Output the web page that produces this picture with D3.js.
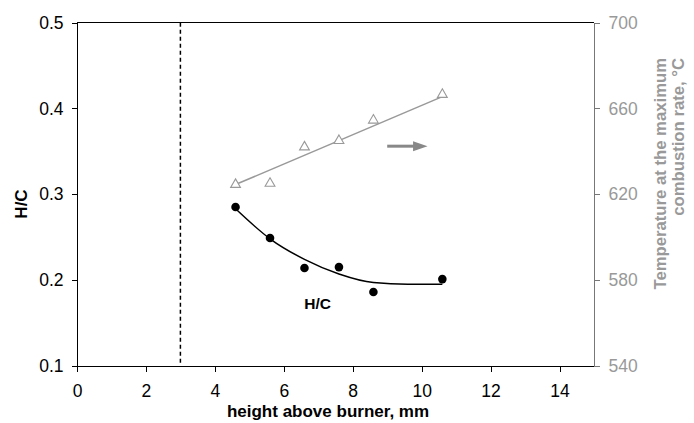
<!DOCTYPE html>
<html>
<head>
<meta charset="utf-8">
<script src="https://d3js.org/d3.v7.min.js"></script>
<style>
  body { margin: 0; background: #fff; }
  svg { display: block; font-family: "Liberation Sans", Arial, sans-serif; }
  .axis path, .axis line { shape-rendering: crispEdges; }
</style>
</head>
<body>
<div id="chart"></div>
<script>
// data
var heights = [4.6, 5.6, 6.6, 7.6, 8.6, 10.6];
var hcValues = [0.285, 0.249, 0.214, 0.215, 0.186, 0.201];
var tempValues = [624.5, 625, 642, 645, 654.5, 666.5];

// trend lines as drawn
var hcFitX = [4.6, 5.6, 6.6, 7.6, 8.6, 9.6, 10.6];
var hcFitY = [0.283, 0.248, 0.224, 0.207, 0.197, 0.195, 0.195];
var tempFitX = [4.6, 10.6];
var tempFitY = [624.5, 665.5];

var xTicks = [0, 2, 4, 6, 8, 10, 12, 14];
var hcTicks = [0.1, 0.2, 0.3, 0.4, 0.5];
var tempTicks = [540, 580, 620, 660, 700];
var burnerLine = 3;

var W = 694, H = 423;
var pLeft = 77, pRight = 594, pTop = 22.7, pBottom = 365.7;
var tickFont = 17.5;

var svg = d3.select("#chart").append("svg")
    .attr("width", W)
    .attr("height", H);

var x = d3.scaleLinear().domain([0, 15]).range([pLeft, pRight]);
var y = d3.scaleLinear().domain([0.1, 0.5]).range([pBottom, pTop]);
var yT = d3.scaleLinear().domain([540, 700]).range([pBottom, pTop]);

// top frame line
svg.append("line")
    .attr("x1", pLeft).attr("x2", pRight)
    .attr("y1", y(0.5)).attr("y2", y(0.5))
    .attr("stroke", "#000").attr("stroke-width", 1.2)
    .attr("shape-rendering", "crispEdges");

// x axis
var gx = svg.append("g")
    .attr("class", "axis")
    .attr("transform", "translate(0," + pBottom + ")")
    .call(d3.axisBottom(x).tickValues(xTicks).tickSize(6).tickSizeOuter(0).tickPadding(13));
gx.attr("font-size", tickFont).attr("font-family", null);
gx.select(".domain").attr("stroke", "#000").attr("stroke-width", 1.2);
gx.selectAll("text").attr("fill", "#000");

// left axis
var gy = svg.append("g")
    .attr("class", "axis")
    .attr("transform", "translate(" + pLeft + ",0)")
    .call(d3.axisLeft(y).tickValues(hcTicks).tickFormat(d3.format(".1f")).tickSize(5).tickSizeOuter(0).tickPadding(8.5));
gy.attr("font-size", tickFont).attr("font-family", null);
gy.select(".domain").attr("stroke", "#000").attr("stroke-width", 1.2);
gy.selectAll("text").attr("fill", "#000");

// right axis
var gr = svg.append("g")
    .attr("class", "axis")
    .attr("transform", "translate(" + pRight + ",0)")
    .call(d3.axisRight(yT).tickValues(tempTicks).tickSize(6).tickSizeOuter(0).tickPadding(8.5));
gr.attr("font-size", tickFont).attr("font-family", null);
gr.select(".domain").attr("stroke", "#777").attr("stroke-width", 1.4);
gr.selectAll("line").attr("stroke", "#777");
gr.selectAll("text").attr("fill", "#999");

// dashed burner line
svg.append("line")
    .attr("x1", x(burnerLine)).attr("x2", x(burnerLine))
    .attr("y1", y(0.5)).attr("y2", y(0.1))
    .attr("stroke", "#000").attr("stroke-width", 1.5)
    .attr("stroke-dasharray", "4,3");

// temperature trend + triangles
var tempLine = d3.line()
    .x(function (d, i) { return x(tempFitX[i]); })
    .y(function (d) { return yT(d); });
svg.append("path")
    .datum(tempFitY)
    .attr("d", tempLine)
    .attr("fill", "none")
    .attr("stroke", "#999")
    .attr("stroke-width", 1.5);

var tri = d3.symbol().type(d3.symbolTriangle).size(42);
svg.selectAll(".tri")
    .data(tempValues)
    .enter().append("path")
    .attr("class", "tri")
    .attr("d", tri)
    .attr("transform", function (d, i) { return "translate(" + x(heights[i]) + "," + yT(d) + ")"; })
    .attr("fill", "#fff")
    .attr("stroke", "#999")
    .attr("stroke-width", 1.1);

// H/C trend + dots
var hcLine = d3.line()
    .x(function (d, i) { return x(hcFitX[i]); })
    .y(function (d) { return y(d); })
    .curve(d3.curveMonotoneX);
svg.append("path")
    .datum(hcFitY)
    .attr("d", hcLine)
    .attr("fill", "none")
    .attr("stroke", "#000")
    .attr("stroke-width", 1.5);

svg.selectAll(".dot")
    .data(hcValues)
    .enter().append("circle")
    .attr("class", "dot")
    .attr("cx", function (d, i) { return x(heights[i]); })
    .attr("cy", function (d) { return y(d); })
    .attr("r", 4.3)
    .attr("fill", "#000");

// arrow pointing to right axis
var ay = y(0.356);
svg.append("line")
    .attr("x1", x(9.0)).attr("x2", x(9.8))
    .attr("y1", ay).attr("y2", ay)
    .attr("stroke", "#888").attr("stroke-width", 3);
svg.append("path")
    .attr("d", "M" + x(9.75) + "," + (ay - 5) + "L" + x(10.17) + "," + ay + "L" + x(9.75) + "," + (ay + 5) + "Z")
    .attr("fill", "#888");

// H/C label
svg.append("text")
    .attr("x", x(6.98)).attr("y", y(0.172))
    .attr("dy", "0.35em")
    .attr("text-anchor", "middle")
    .attr("font-size", 15.5)
    .attr("font-weight", "bold")
    .text("H/C");

// axis titles
svg.append("text")
    .attr("transform", "translate(26.5,204) rotate(-90)")
    .attr("text-anchor", "middle")
    .attr("font-size", 17)
    .attr("font-weight", "bold")
    .text("H/C");

svg.append("text")
    .attr("x", 328).attr("y", 417)
    .attr("text-anchor", "middle")
    .attr("font-size", 17)
    .attr("font-weight", "bold")
    .text("height above burner, mm");

svg.append("text")
    .attr("transform", "translate(666,58) rotate(-90)")
    .attr("text-anchor", "end")
    .attr("font-size", 16.7)
    .attr("font-weight", "bold")
    .attr("fill", "#999")
    .text("Temperature at the maximum");
svg.append("text")
    .attr("transform", "translate(684,58) rotate(-90)")
    .attr("text-anchor", "end")
    .attr("font-size", 16.7)
    .attr("font-weight", "bold")
    .attr("fill", "#999")
    .text("combustion rate, °C");
</script>
</body>
</html>
